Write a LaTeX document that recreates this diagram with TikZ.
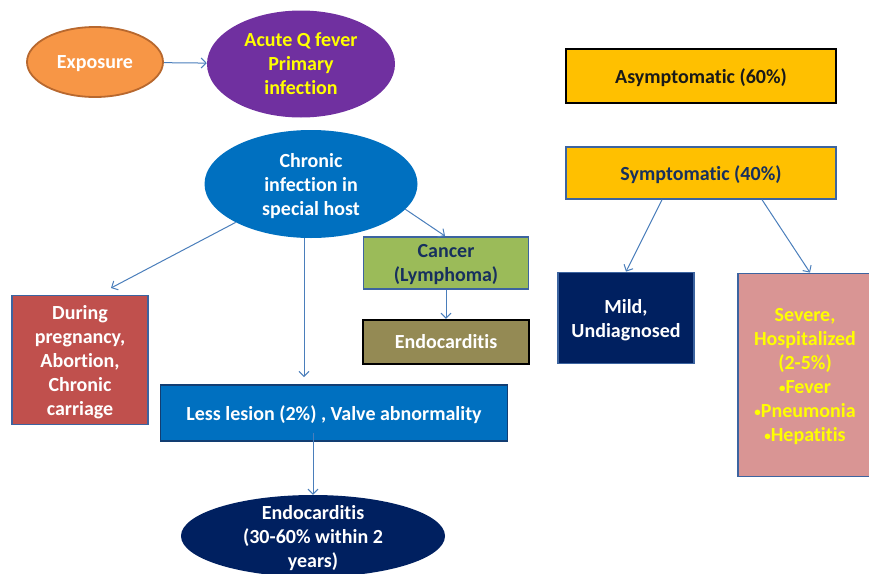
\documentclass[tikz,border=0pt]{standalone}
\usepackage{fontspec}
\setmainfont{Carlito}[Ligatures=NoCommon]
\usetikzlibrary{arrows.meta,positioning,shapes.geometric}

\definecolor{arrowblue}{HTML}{4A7EBB}
\definecolor{edgeblue}{HTML}{3C64A0}
\definecolor{qorange}{HTML}{F79646}
\definecolor{qbrown}{HTML}{B8682E}
\definecolor{qpurple}{HTML}{7030A0}
\definecolor{qblue}{HTML}{0070C0}
\definecolor{qnavy}{HTML}{002060}
\definecolor{qred}{HTML}{C0504D}
\definecolor{qgreen}{HTML}{9BBB59}
\definecolor{qolive}{HTML}{948A54}
\definecolor{qgold}{HTML}{FFC000}
\definecolor{qpink}{HTML}{D99594}
\definecolor{qtext}{HTML}{17305E}
\definecolor{qyellow}{HTML}{FFFF00}

\newcommand\lbl{\fontsize{20}{24}\selectfont\bfseries}
\newcommand\bul{{\fontsize{13}{24}\selectfont\raisebox{1.5pt}{•}}}

\begin{document}
\begin{tikzpicture}[x=1pt, y=-1pt, >={Straight Barb[length=5pt,width=10pt]},
  ov/.style={ellipse, inner sep=0pt, align=center, font=\lbl, text=white, text depth=0pt},
  bx/.style={draw=edgeblue, line width=1.8pt, inner sep=0pt, align=center, font=\lbl, text=white, text depth=0pt},
  e/.style={->, draw=arrowblue, line width=1pt}]
\useasboundingbox (0,0) rectangle (869,573);
\node[ov, fill=qorange, draw=qbrown, line width=1.8pt, minimum width=136pt, minimum height=70pt] (expo) at (95,62) {Exposure};
\node[ov, fill=qpurple, text=qyellow, minimum width=188pt, minimum height=107pt] (acute) at (301,64) {Acute Q fever\\Primary\\infection};
\node[ov, fill=qblue, minimum width=213pt, minimum height=108pt] (chronic) at (311,184) {Chronic\\infection in\\special host};
\node[bx, fill=qred, minimum width=136pt, minimum height=129pt] (preg) at (80,360) {During\\pregnancy,\\Abortion,\\Chronic\\carriage};
\node[bx, fill=qblue, draw=qtext!80!qblue, minimum width=347pt, minimum height=56pt] (less) at (334,413) {Less lesion (2\%) , Valve abnormality};
\node[ov, fill=qnavy, minimum width=264pt, minimum height=82pt] (endo) at (313,536) {};
\node[font=\lbl, text=white, align=center] (endotxt) at (313,538) {Endocarditis\\(30-60\% within 2\\years)};
\node[bx, fill=qgreen, text=qtext, minimum width=165pt, minimum height=52pt] (cancer) at (446,263) {Cancer\\(Lymphoma)};
\node[bx, fill=qolive, draw=black, minimum width=166pt, minimum height=44pt, below=29pt of cancer] (endobox) {Endocarditis};
\node[bx, fill=qgold, draw=black, text=black!90, minimum width=270pt, minimum height=54pt] (asym) at (701,76) {Asymptomatic (60\%)};
\node[bx, fill=qgold, text=qtext, minimum width=270pt, minimum height=52pt, below=42pt of asym] (sym) {Symptomatic (40\%)};
\node[bx, fill=qnavy, minimum width=136pt, minimum height=91pt] (mild) at (626,318) {Mild,\\Undiagnosed};
\node[bx, fill=qpink, text=qyellow, minimum width=134pt, minimum height=203pt] (severe) at (805,375) {Severe,\\Hospitalized\\(2-5\%)\\\bul Fever\\\bul Pneumonia\\\bul Hepatitis};
\coordinate (d1) at (111,288);
\coordinate (l1) at (304,377);
\coordinate (c1) at (445,236);
\draw[e] (expo) -- (acute);
\draw[e] (chronic.207) -- (d1);
\draw[e] (chronic.south -| l1) -- (l1);
\draw[e] (chronic.-15) -- (c1);
\draw[e] (cancer) -- (endobox);
\draw[e] ([yshift=9pt]endo.north |- less.south) -- (endo.north);
\draw[e] ([xshift=-39pt]sym.south) -- (mild.north);
\draw[e] ([xshift=61pt]sym.south) -- ([xshift=5pt]severe.north);
\end{tikzpicture}
\end{document}
